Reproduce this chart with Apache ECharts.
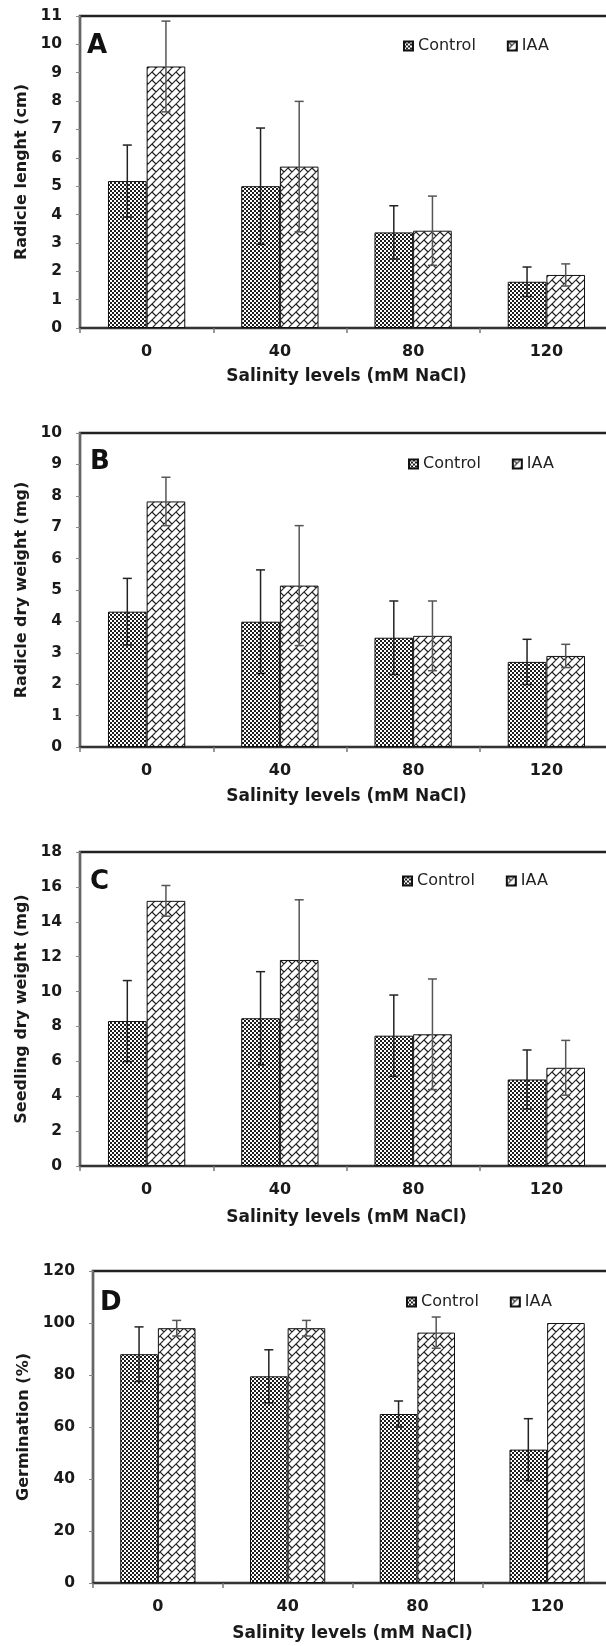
<!DOCTYPE html>
<html><head><meta charset="utf-8">
<script src="https://cdn.jsdelivr.net/npm/echarts@6/dist/echarts.min.js"></script>
<style>html,body{margin:0;padding:0;overflow:hidden;background:#fff}#c{width:620px;height:1646px}</style>
</head><body><div id="c"></div>
<script>
// ---- data ----
const categories = ['0', '40', '80', '120'];
const legendNames = ['Control', 'IAA'];

const controlA = [5.18, 5.00, 3.37, 1.63];
const controlSdA = [1.27, 2.05, 0.94, 0.52];
const iaaA = [9.22, 5.69, 3.43, 1.87];
const iaaSdA = [1.60, 2.30, 1.22, 0.39];

const controlB = [4.31, 3.99, 3.48, 2.71];
const controlSdB = [1.06, 1.65, 1.17, 0.72];
const iaaB = [7.82, 5.14, 3.54, 2.90];
const iaaSdB = [0.77, 1.91, 1.11, 0.37];

const controlC = [8.31, 8.47, 7.47, 4.96];
const controlSdC = [2.32, 2.67, 2.33, 1.69];
const iaaC = [15.20, 11.81, 7.55, 5.63];
const iaaSdC = [0.88, 3.45, 3.17, 1.57];

const controlD = [88.0, 79.5, 65.0, 51.3];
const controlSdD = [10.5, 10.2, 5.0, 11.9];
const iaaD = [98.0, 98.0, 96.3, 100.0];
const iaaSdD = [3.0, 3.0, 6.0, 0];

const yMaxes = [11, 10, 18, 120];
const yIntervals = [1, 1, 2, 20];
const yTitles = ['Radicle lenght (cm)', 'Radicle dry weight (mg)', 'Seedling dry weight (mg)', 'Germination (%)'];
const xTitle = 'Salinity levels (mM NaCl)';
const panelLetters = ['A', 'B', 'C', 'D'];

// ---- patterns ----
function makeDots() {
  const c = document.createElement('canvas'); c.width = 4; c.height = 4;
  const g = c.getContext('2d');
  g.fillStyle = '#fff'; g.fillRect(0, 0, 4, 4);
  g.fillStyle = '#1e1e1e';
  g.fillRect(0, 0, 2, 2); g.fillRect(2, 2, 2, 2);
  return c;
}
function makeBricks() {
  const T = 16;
  const c = document.createElement('canvas'); c.width = T; c.height = T;
  const g = c.getContext('2d');
  g.fillStyle = '#fff'; g.fillRect(0, 0, T, T);
  g.strokeStyle = '#222'; g.lineWidth = 1.2;
  g.beginPath();
  for (let s = -16; s <= 48; s += 8) { g.moveTo(s + 4, -4); g.lineTo(s - 20, 20); }
  for (let a = -16; a <= 40; a += 8) {
    const base = ((a % 16) + 16) % 16;
    for (let d = base - 48; d <= 48; d += 16) {
      const x1 = (a + d) / 2, y1 = (a - d) / 2, x2 = (a + 8 + d) / 2, y2 = (a + 8 - d) / 2;
      g.moveTo(x1, y1); g.lineTo(x2, y2);
    }
  }
  g.stroke();
  return c;
}
const dotFill = { image: makeDots(), repeat: 'repeat' };
const brickFill = { image: makeBricks(), repeat: 'repeat' };

// ---- layout ----
const grids = [
  { left: 80, top: 16, width: 533, height: 312 },
  { left: 80, top: 433, width: 533, height: 314 },
  { left: 80, top: 852, width: 533, height: 314 },
  { left: 93, top: 1271, width: 519, height: 312 }
];
const xNameGaps = [40, 41, 43, 42];
const legendPos = [[403, 38], [408, 456], [402, 873], [406, 1294]];
const letterPos = [[87, 46], [90, 462], [90, 882], [100, 1303]];

const FONT = 'DejaVu Sans';
const BAR_FRAC = 0.29;

function errSeries(gi, vals, sds, sign, color) {
  return {
    type: 'custom', name: 'sd' + gi + sign, xAxisIndex: gi, yAxisIndex: gi, z: 5, silent: true,
    data: vals.map((v, i) => [i, v, sds[i]]),
    renderItem(params, api) {
      const i = api.value(0), v = api.value(1), e = api.value(2);
      if (!e) return null;
      const band = api.size([1, 0])[0];
      const off = sign * band * BAR_FRAC / 2;
      const t = api.coord([i, v + e]), b = api.coord([i, v - e]);
      const x = t[0] + off;
      const style = { stroke: color, lineWidth: 1.5 };
      return { type: 'group', children: [
        { type: 'line', shape: { x1: x, y1: t[1], x2: x, y2: b[1] }, style },
        { type: 'line', shape: { x1: x - 4.5, y1: t[1], x2: x + 4.5, y2: t[1] }, style },
        { type: 'line', shape: { x1: x - 4.5, y1: b[1], x2: x + 4.5, y2: b[1] }, style }
      ] };
    }
  };
}

const ctrls = [controlA, controlB, controlC, controlD];
const ctrlSds = [controlSdA, controlSdB, controlSdC, controlSdD];
const iaas = [iaaA, iaaB, iaaC, iaaD];
const iaaSds = [iaaSdA, iaaSdB, iaaSdC, iaaSdD];

const option = {
  animation: false,
  backgroundColor: '#fff',
  grid: grids.map(g => Object.assign({ show: true, borderColor: '#222', borderWidth: 2.5, backgroundColor: 'transparent' }, g)),
  xAxis: grids.map((g, i) => ({
    type: 'category', gridIndex: i, data: categories,
    name: xTitle, nameLocation: 'middle', nameGap: xNameGaps[i],
    nameTextStyle: { fontFamily: FONT, fontWeight: 'bold', fontSize: 17, color: '#1a1a1a' },
    axisLine: { lineStyle: { color: '#333', width: 2 } },
    axisTick: { show: true, length: 5, lineStyle: { color: '#777', width: 1.5 } },
    axisLabel: { margin: 16, fontFamily: FONT, fontWeight: 'bold', fontSize: 16, color: '#1a1a1a' }
  })),
  yAxis: grids.map((g, i) => ({
    type: 'value', gridIndex: i, min: 0, max: yMaxes[i], interval: yIntervals[i],
    name: yTitles[i], nameLocation: 'middle', nameGap: 50,
    nameTextStyle: { fontFamily: FONT, fontWeight: 'bold', fontSize: 16, color: '#1a1a1a' },
    axisLine: { show: true, lineStyle: { color: '#666', width: 2 } },
    axisTick: { show: true, length: 4, lineStyle: { color: '#888', width: 1 } },
    splitLine: { show: false },
    axisLabel: { margin: 18, fontFamily: FONT, fontWeight: 'bold', fontSize: 15.5, color: '#1a1a1a' }
  })),
  legend: legendPos.map(p => ({
    left: p[0], top: p[1], padding: 0, itemGap: 31, itemWidth: 9, itemHeight: 9,
    icon: 'rect', data: legendNames, selectedMode: false,
    textStyle: { fontFamily: FONT, fontSize: 16, color: '#222' }
  })),
  graphic: panelLetters.map((L, i) => ({
    type: 'text', x: letterPos[i][0], y: letterPos[i][1], z: 10,
    style: { text: L, fontFamily: FONT, fontWeight: 'bold', fontSize: 26, fill: '#111', verticalAlign: 'middle' }
  })),
  series: []
};

for (let i = 0; i < 4; i++) {
  option.series.push({
    type: 'bar', name: legendNames[0], xAxisIndex: i, yAxisIndex: i, data: ctrls[i],
    barGap: '0%', barCategoryGap: '42%',
    itemStyle: { color: dotFill, borderColor: '#111', borderWidth: 1 }
  });
  option.series.push({
    type: 'bar', name: legendNames[1], xAxisIndex: i, yAxisIndex: i, data: iaas[i],
    barGap: '0%', barCategoryGap: '42%',
    itemStyle: { color: brickFill, borderColor: '#111', borderWidth: 1 }
  });
  option.series.push(errSeries(i, ctrls[i], ctrlSds[i], -1, '#222'));
  option.series.push(errSeries(i, iaas[i], iaaSds[i], 1, '#555'));
}

const chart = echarts.init(document.getElementById('c'), null, { renderer: 'canvas' });
chart.setOption(option);
</script></body></html>
